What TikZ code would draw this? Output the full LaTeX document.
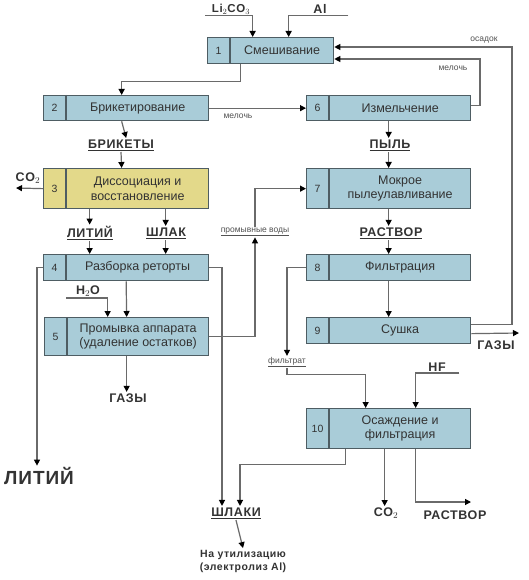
\documentclass[tikz,border=0pt]{standalone}
\usepackage{fontspec}
\setmainfont{Liberation Sans}
\newfontfamily\lblfont[LetterSpace=5]{Liberation Sans}
\usetikzlibrary{arrows.meta,calc}
\definecolor{boxblue}{HTML}{A9CCD8}
\definecolor{boxyel}{HTML}{E3D98A}
\definecolor{boxedge}{HTML}{4E5D63}
\definecolor{lncol}{HTML}{6A6A6A}
\definecolor{txt}{HTML}{333333}
\tikzset{
 pbox/.style={draw=boxedge, line width=1.3pt, fill=boxblue, anchor=north west, inner sep=0pt},
 ybox/.style={pbox, fill=boxyel},
 num/.style={font=\fontsize{10.5}{12}\selectfont, text=txt},
 btxt/.style={font=\fontsize{12.5}{14.5}\selectfont, text=txt, align=center},
 lbl/.style={font=\lblfont\bfseries\fontsize{12.5}{14}\selectfont, text=txt, inner sep=1.5pt},
 big/.style={font=\lblfont\bfseries\fontsize{19}{21}\selectfont, text=txt, inner sep=1.5pt},
 sm/.style={font=\fontsize{8.5}{10}\selectfont, text=txt!85, inner sep=1pt},
 ln/.style={draw=lncol, line width=1.2pt},
 arr/.style={ln, -{Triangle[length=6pt,width=6pt,color=black]}},
}
\newcommand\procbox[8]{%
 \node[#6, minimum width=#4pt, minimum height=#5pt] (#1) at (#2,#3) {};
 \draw[draw=boxedge, line width=1.3pt] ([xshift=23pt]#1.north west) -- ([xshift=23pt]#1.south west);
 \node[num] (#1n) at ($(#1.west)+(11.5,0)$) {#7};
 \node[btxt] (#1t) at ($(#1.center)+(11.5,0)$) {#8};
}
\begin{document}
\begin{tikzpicture}[x=1pt,y=-1pt]
\fill[white] (0,0) rectangle (529,580);
\useasboundingbox (0,0) rectangle (529,580);
% boxes
\procbox{b1}{207}{37}{126}{26}{pbox}{1}{Смешивание}
\procbox{b2}{43}{95}{165}{25}{pbox}{2}{Брикетирование}
\procbox{b6}{306}{95}{164}{25}{pbox}{6}{Измельчение}
\procbox{b3}{43}{168}{165}{40}{ybox}{3}{Диссоциация и\\восстановление}
\procbox{b7}{306}{168}{164}{40}{pbox}{7}{Мокрое\\пылеулавливание}
\procbox{b4}{43}{254}{165}{26}{pbox}{4}{Разборка реторты}
\procbox{b8}{306}{254}{164}{26}{pbox}{8}{Фильтрация}
\procbox{b5}{44}{317}{164}{38}{pbox}{5}{Промывка аппарата\\(удаление остатков)}
\procbox{b9}{306}{317}{164}{26}{pbox}{9}{Сушка}
\procbox{b10}{306}{408}{164}{40}{pbox}{10}{Осаждение и\\фильтрация}
% labels
\node[lbl, font=\lblfont\bfseries\fontsize{11.5}{13}\selectfont] (li) at (231,9) {Li$_2$CO$_3$};
\node[lbl] (al) at (320,9) {Al};
\node[sm] (osd) at (484,40) {осадок};
\node[sm] (mel) at (453,68) {мелочь};
\node[sm] (mel2) at (238,116) {мелочь};
\node[lbl] (bri) at (121,145) {\underline{БРИКЕТЫ}};
\node[lbl] (pyl) at (390,145) {\underline{ПЫЛЬ}};
\node[lbl] (co2a) at (28,178) {CO$_2$};
\coordinate (co2end) at (16,188);
\node[lbl] (lit1) at (90,233) {\underline{ЛИТИЙ}};
\node[lbl] (shl1) at (166,233) {\underline{ШЛАК}};
\node[sm] (pv) at (255,232) {\underline{промывные воды}};
\node[lbl] (ras1) at (391,233) {\underline{РАСТВОР}};
\node[lbl] (h2o) at (88,291) {H$_2$O};
\node[lbl] (g1) at (128,398) {ГАЗЫ};
\node[sm] (fl) at (287,362) {\underline{фильтрат}};
\node[lbl] (hf) at (437,367) {HF};
\node[lbl] (g2) at (496,345) {ГАЗЫ};
\coordinate (g2end) at (519,333);
\node[big] (lit2) at (39,476) {ЛИТИЙ};
\node[lbl] (shl2) at (236,513) {\underline{ШЛАКИ}};
\node[lbl] (co2b) at (386,513) {CO$_2$};
\node[lbl] (ras2) at (455,515) {РАСТВОР};
\coordinate (rend) at (471,502);
\node[lbl, align=center, font=\lblfont\bfseries\fontsize{10.5}{13}\selectfont] (util) at (243,561) {На утилизацию\\(электролиз Al)};
\coordinate (r1) at (512,47);
\coordinate (r2) at (480,59);
% connectors
\draw[arr] ([xshift=-5pt]li.south west) -| ([xshift=-18pt]b1.north);
\draw[arr] ([xshift=20pt]al.south east) -| ([xshift=18pt]b1.north);
\draw[arr] ([yshift=6pt]b9.east) -| (r1) -- (r1 -| b1.east);
\draw[arr] ([yshift=2.5pt]b6.east) -| (r2) -- (r2 -| b1.east);
\draw[arr] ([xshift=-30pt]b1.south) -- ++(0,17) -| ([xshift=-4.5pt]b2.north);
\draw[arr] (b2.east) -- (b6.west);
\draw[arr] ([xshift=-4.5pt]b2.south) -- (bri.north -| b3.north);
\draw[arr] (bri.south) -- ([xshift=-4.5pt]b3.north);
\draw[arr] (b6.south) -- (b6.south |- pyl.north);
\draw[arr] (b6.south |- pyl.south) -- (b7.north);
\draw[arr] (b3.west) -- (co2end);
\draw[arr] ([xshift=-36.5pt]b3.south) -- ([xshift=-36.5pt]b3.south |- lit1.north);
\draw[arr] ([xshift=39.5pt]b3.south) -- ([xshift=39.5pt]b3.south |- shl1.north);
\draw[arr] ([xshift=-36.5pt]b3.south |- lit1.south) -- ([xshift=-36.5pt]b4.north);
\draw[arr] ([xshift=39.5pt]b3.south |- shl1.south) -- ([xshift=39.5pt]b4.north);
\draw[arr] (b7.south) -- (b7.south |- ras1.north);
\draw[arr] (b7.south |- ras1.south) -- (b8.north);
\draw[arr] (b8.south) -- (b9.north);
\draw[arr] (b5.east) -| (pv.south);
\draw[arr] (pv.north) |- (b7.west);
\draw[arr] (b4.west) -| ([xshift=-2pt]lit2.north);
\draw[arr] (b4.east) -| ([xshift=-14pt]shl2.north);
\draw[arr] (b4.south) -- (b5.north);
\draw[arr] ([xshift=-8pt]h2o.south west) -| ([xshift=-19pt]b5.north);
\draw[arr] (b5.south) -- (b5.south |- g1.north);
\draw[arr] (b8.west) -| (fl.north);
\draw[arr] (fl.south) -- ++(0,6) -| ([xshift=-23pt]b10.north);
\draw[arr] ([xshift=12pt]hf.south east) -| ([xshift=27pt]b10.north);
\draw[arr] ([yshift=-3pt]b9.east) -- (g2end);
\draw[arr] ([xshift=-43pt]b10.south) -- ++(0,15) -| ([xshift=4pt]shl2.north);
\draw[arr] ([xshift=-4pt]b10.south) -- ([xshift=-4pt]b10.south |- co2b.north);
\draw[arr] ([xshift=27pt]b10.south) |- (rend);
\draw[arr] (shl2.south) -- (util.north);
\end{tikzpicture}
\end{document}
